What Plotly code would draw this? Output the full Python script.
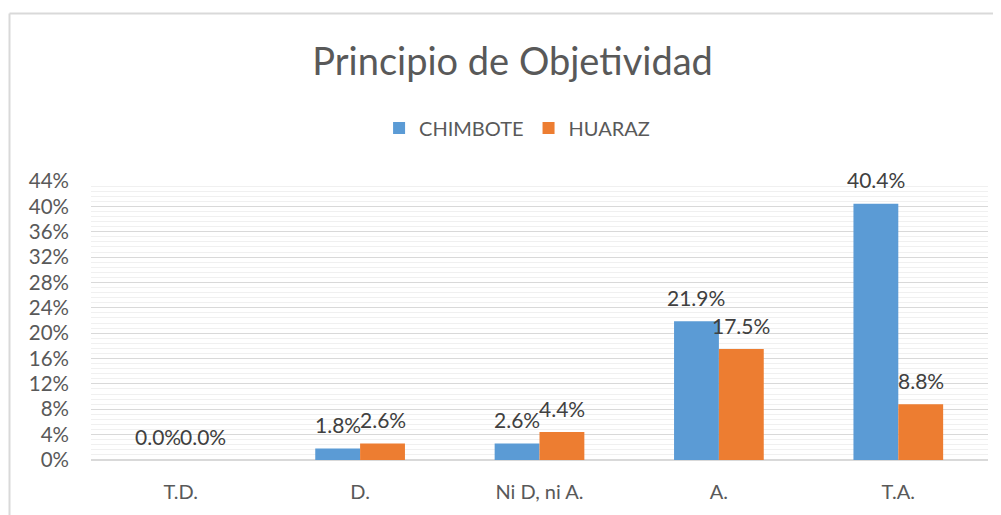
import plotly.graph_objects as go

categories = ["T.D.", "D.", "Ni D, ni A.", "A.", "T.A."]
chimbote = [0.0, 0.018, 0.026, 0.219, 0.404]
huaraz = [0.0, 0.026, 0.044, 0.175, 0.088]
series_names = ["CHIMBOTE", "HUARAZ"]
colors = ["#5B9BD5", "#ED7D31"]
ytick_vals = [i * 0.04 for i in range(12)]
ytick_text = [f"{i * 4}%" for i in range(12)]

FONT = "Lato, 'Open Sans', sans-serif"

# page has an 8px body margin; size the figure so it fills the 1001x515 window
OFF = 8
W, H = 1001 - OFF, 515 - OFF
L, R, T, B = 91 - OFF, 13, 181 - OFF, 55
px_w, px_h = W - L - R, H - T - B

fig = go.Figure()
for name, vals, col in zip(series_names, [chimbote, huaraz], colors):
    fig.add_trace(go.Bar(
        x=categories, y=vals, name=name, marker=dict(color=col, line=dict(width=0)),
        hoverinfo="skip",
    ))

# data labels above each bar (bar centres are +/- a quarter of the group width)
cat_px = px_w / len(categories)
half_bar = cat_px * 0.5 / 4
for vals, off in [(chimbote, -half_bar), (huaraz, half_bar)]:
    for c, v in zip(categories, vals):
        fig.add_annotation(
            x=c, y=v, text=f"{v*100:.1f}%", showarrow=False,
            xshift=off, yshift=24, yanchor="middle",
            font=dict(family=FONT, size=21, color="#404040"),
        )

fig.update_layout(
    width=W, height=H,
    margin=dict(l=L, r=R, t=T, b=B),
    paper_bgcolor="white", plot_bgcolor="white",
    barmode="group", bargap=0.5, bargroupgap=0,
    title=dict(text="Principio de Objetividad", x=0.470, xanchor="center",
               xref="paper", y=1 - (62 - OFF) / H, yanchor="middle",
               font=dict(family=FONT, size=38, color="#595959")),
    legend=dict(orientation="h", x=0.475, xanchor="center", y=1 - (128 - OFF) / H,
                yanchor="middle", yref="container",
                font=dict(family=FONT, size=20, color="#595959"),
                itemwidth=30, traceorder="normal"),
    xaxis=dict(showgrid=False, showline=False, ticks="",
               tickfont=dict(family=FONT, size=20, color="#595959"),
               ticklabelstandoff=18),
    yaxis=dict(range=[0, 0.44], tickvals=ytick_vals, ticktext=ytick_text,
               showgrid=True, gridcolor="#d9d9d9", gridwidth=1.3,
               zeroline=True, zerolinecolor="#d9d9d9", zerolinewidth=1.5,
               minor=dict(dtick=0.008, showgrid=True, gridcolor="#f0f0f0", gridwidth=1),
               tickfont=dict(family=FONT, size=20.5, color="#595959"),
               ticklabelstandoff=21),
    showlegend=True,
)

# chart frame (top and left edges visible)
fx0 = (9.5 - OFF - L) / px_w
fy1 = (H - B - (13.5 - OFF)) / px_h
fig.add_shape(type="line", xref="paper", yref="paper", x0=fx0, x1=1.2, y0=fy1, y1=fy1,
              line=dict(color="#d9d9d9", width=2))
fig.add_shape(type="line", xref="paper", yref="paper", x0=fx0, x1=fx0, y0=fy1, y1=-0.3,
              line=dict(color="#d9d9d9", width=2))

fig.write_html("out.html")
